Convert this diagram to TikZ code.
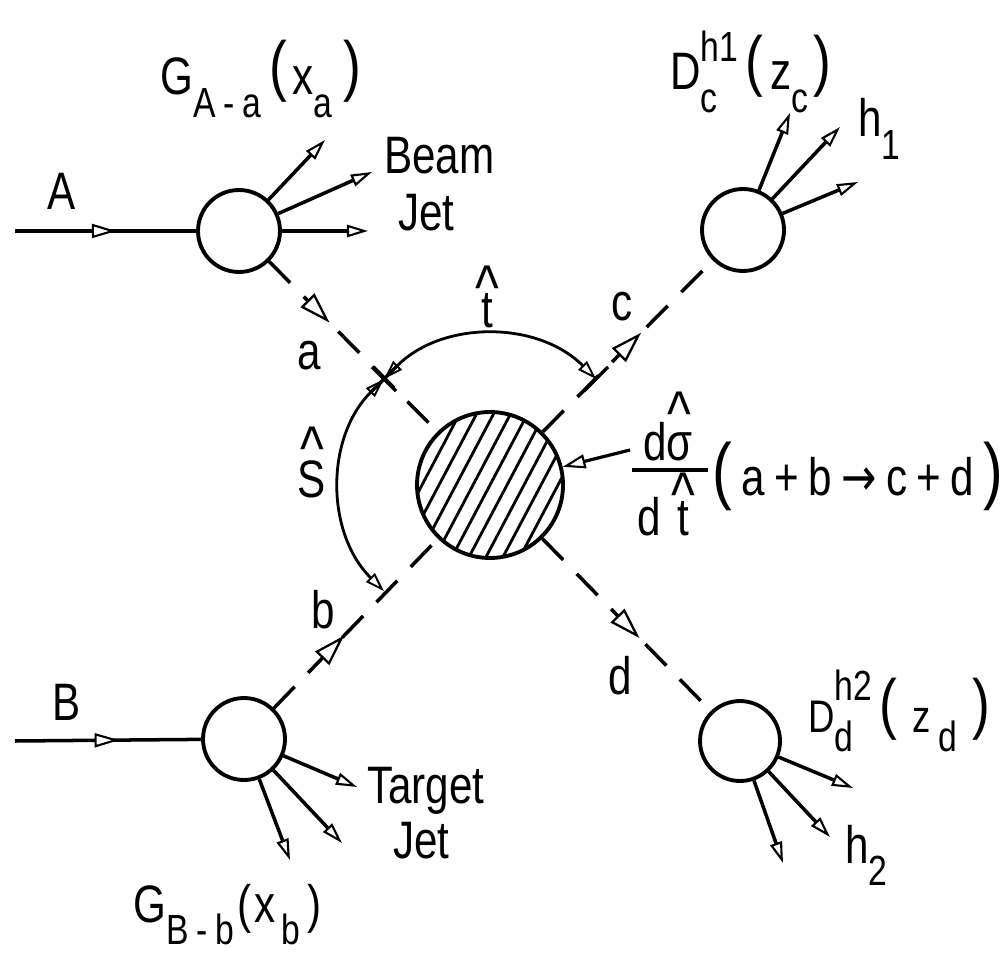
\documentclass[tikz,border=0pt]{standalone}
\usepackage{fontspec}
\setmainfont{Liberation Sans}[FakeStretch=0.8]
\newfontfamily\arrowfont{DejaVu Sans}[FakeStretch=0.8]
\usetikzlibrary{arrows.meta,decorations.markings}
\newcommand\lsub[1]{\raisebox{-0.42em}{\fontsize{24}{24}\selectfont #1}}
\newcommand\lsupr[2]{\raisebox{#1}{\fontsize{24}{24}\selectfont #2}}
\newcommand\lhat[2]{\leavevmode\vbox{\offinterlineskip\halign{\hfil##\hfil\cr{\fontsize{36}{36}\selectfont\textasciicircum}\cr\noalign{\kern#1}#2\cr}}}
\newcommand\lsp{\kern0.18em}
\newcommand\bigp[1]{\raisebox{0.12em}{\fontsize{38}{38}\selectfont #1}}
\begin{document}
\begin{tikzpicture}[x=0.02cm,y=-0.02cm,
  blob/.style={circle, draw, line width=2.2pt, inner sep=0pt, minimum size=1.64cm},
  particle/.style={line width=2pt},
  parton/.style={line width=2pt, dash pattern=on 17pt off 11pt},
  jet/.style={line width=2pt, -{Triangle[length=12pt,width=7pt,fill=white,line width=1.2pt]}},
  midarrow/.style={postaction={decorate, decoration={markings, mark=at position #1 with {\arrow{Triangle[length=18pt,width=11pt,fill=white,line width=1.3pt]}}}}},
  inarrow/.style={postaction={decorate, decoration={markings, mark=at position #1 with {\arrow{Triangle[length=14pt,width=8pt,fill=white,line width=1.2pt]}}}}},
  arcline/.style={line width=1.6pt, {Triangle[length=11pt,width=7pt,fill=white,line width=1.1pt]}-{Triangle[length=11pt,width=7pt,fill=white,line width=1.1pt]}},
  tickline/.style={line width=2pt},
  hatch/.style={line width=1.6pt},
  lbl/.style={inner sep=0pt, font=\fontsize{30}{32}\selectfont}
]
\useasboundingbox (0,0) rectangle (1006,955);

% hatching of the hard-scattering blob
\begin{scope}
  \clip (490,485) circle [radius=73];
  \foreach \i in {-6,...,6}
    \draw[hatch] ({490+17*\i-56},{485+106}) -- ({490+17*\i+56},{485-106});
\end{scope}
\node[circle, draw, line width=2.2pt, inner sep=0pt, minimum size=2.92cm] (H) at (490,485) {};

% soft blobs
\node[blob] (A) at (239,231) {};
\node[blob] (B) at (244,739) {};
\node[blob] (C) at (743,230) {};
\node[blob, minimum size=1.6cm] (D) at (740,741) {};

% incoming hadrons
\coordinate (Ain) at (15,231);
\coordinate (Bin) at (15,741);
\draw[particle, inarrow=0.56] (Ain) -- (A);
\draw[particle, inarrow=0.56] (Bin) -- (B);

% jets
\coordinate (aj1) at (325,140);
\coordinate (aj2) at (372,172);
\coordinate (aj3) at (368,231);
\draw[jet] (A) -- (aj1);
\draw[jet] (A) -- (aj2);
\draw[jet] (A) -- (aj3);
\coordinate (bj1) at (357,787);
\coordinate (bj2) at (342,843);
\coordinate (bj3) at (290,860);
\draw[jet] (B) -- (bj1);
\draw[jet] (B) -- (bj2);
\draw[jet] (B) -- (bj3);
\coordinate (cj1) at (790,113);
\coordinate (cj2) at (840,127);
\coordinate (cj3) at (858,182);
\draw[jet] (C) -- (cj1);
\draw[jet] (C) -- (cj2);
\draw[jet] (C) -- (cj3);
\coordinate (dj1) at (853,788);
\coordinate (dj2) at (830,837);
\coordinate (dj3) at (783,863);
\draw[jet] (D) -- (dj1);
\draw[jet] (D) -- (dj2);
\draw[jet] (D) -- (dj3);

% partons
\draw[parton, midarrow=0.36] (A) -- (H);
\draw[parton, midarrow=0.43] (B) -- (H);
\draw[parton, midarrow=0.58] (H) -- (C);
\draw[parton, midarrow=0.58] (H) -- (D);

% s-hat and t-hat arcs
\coordinate (X) at (384,379);
\draw[arcline] (X) arc[start angle=-135, end angle=-45, radius=150];
\draw[arcline] (X) arc[start angle=-135, end angle=-225, radius=150];
\coordinate (xa1) at (372,367); \coordinate (xa2) at (396,391);
\coordinate (xt1) at (371,392); \coordinate (xt2) at (397,366);
\draw[tickline] (xa1) -- (xa2);
\draw[tickline] (xt1) -- (xt2);
\coordinate (ct1) at (584,391); \coordinate (ct2) at (608,367);
\draw[tickline] (ct1) -- (ct2);

% cross-section pointer
\coordinate (sig) at (630,450);
\draw[line width=1.8pt, -{Triangle[length=13pt,width=8pt,fill=white,line width=1.2pt]}] (sig) -- (H);

% labels
\node[lbl] (lA) at (62,191) {A};
\node[lbl] (lB) at (67,702) {B};
\node[lbl] (la) at (309,356) {a};
\node[lbl] (lb) at (323,610) {b};
\node[lbl] (lc) at (622,307) {c};
\node[lbl] (ld) at (620,676) {d};
\node[lbl, anchor=base] (ls) at (312,497) {\lhat{-6pt}{S}};
\node[lbl, anchor=base] (lt) at (487,328) {\lhat{-9pt}{t}};
\node[lbl, anchor=base west] (beam) at (384,174) {Beam};
\node[lbl, anchor=base west] (jet1) at (398,231) {Jet};
\node[lbl, anchor=base west] (tgt) at (367,803) {Target};
\node[lbl, anchor=base west] (jet2) at (393,858) {Jet};
\node[lbl, anchor=base west] (GA) at (160,95) {G\lsub{A\lsp-\lsp a}\hspace{5pt}\bigp{(}\hspace{3pt}x\lsub{a}\hspace{6pt}\bigp{)}};
\node[lbl, anchor=base west] (GB) at (133,922) {G\lsub{B\lsp-\lsp b}\hspace{2pt}(\hspace{2pt}x\lsub{\hspace{3pt}b}\hspace{4pt})};
\node[lbl, anchor=base west] (Dc) at (670,90) {D\rlap{\lsub{c}}\lsupr{0.55em}{h1}\hspace{4pt}\bigp{(}\hspace{4pt}z\lsub{c}\hspace{3pt}\bigp{)}};
\node[lbl, anchor=base west, font=\fontsize{26}{28}\selectfont] (Dd) at (808,732) {D\rlap{\lsub{d}}\lsupr{0.7em}{h2}\hspace{4pt}\bigp{(}\hspace{9pt}z\hspace{4pt}\lsub{d}\hspace{9pt}\bigp{)}};
\node[lbl, anchor=base west] (h1) at (858,137) {h\lsub{1}};
\node[lbl, anchor=base west] (h2) at (845,863) {h\lsub{2}};
\node[lbl, anchor=base] (num) at (668,460) {d\lhat{-2pt}{σ}};
\node[lbl, anchor=base] (den) at (666,535) {d\hspace{0.2em}\lhat{-9pt}{t}};
\draw[line width=2pt] (632,470) -- (708,470);
\node[lbl, anchor=base west] (proc) at (712,495) {{\fontsize{42}{42}\selectfont(}\lsp a\lsp +\lsp b\lsp{\arrowfont →}\lsp c\lsp +\lsp d\lsp {\fontsize{42}{42}\selectfont)}};
\end{tikzpicture}
\end{document}
